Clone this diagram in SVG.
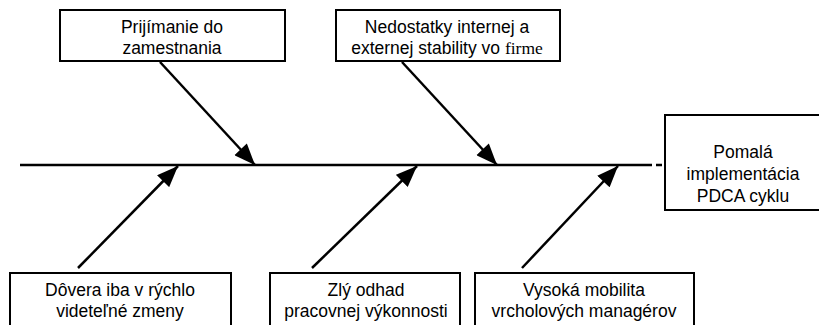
<svg xmlns="http://www.w3.org/2000/svg" width="819" height="325" viewBox="0 0 819 325">
<defs>
<style>
.box{fill:#fff;stroke:#000;stroke-width:2}
.t{font-family:"Liberation Sans",Arial,sans-serif;font-size:17.5px;fill:#000;text-anchor:middle}
.ln{stroke:#000;stroke-width:2.5;fill:none}
</style>
<marker id="arr" viewBox="0 0 20 16" refX="20" refY="8" markerWidth="22" markerHeight="17" markerUnits="userSpaceOnUse" orient="auto">
<path d="M0,0 L20,8 L0,16 Z" fill="#000"/>
</marker>
</defs>
<rect width="819" height="325" fill="#fff"/>
<g id="connectors">
<line class="ln" x1="20" y1="165" x2="646" y2="165"/>
<line class="ln" x1="646" y1="165" x2="665" y2="165" stroke-dasharray="6,4" stroke-width="1.5"/>
<line class="ln" x1="160" y1="62" x2="255" y2="165" marker-end="url(#arr)"/>
<line class="ln" x1="402" y1="62" x2="497" y2="165" marker-end="url(#arr)"/>
<line class="ln" x1="78" y1="268" x2="178" y2="166" marker-end="url(#arr)"/>
<line class="ln" x1="312" y1="268" x2="417" y2="166" marker-end="url(#arr)"/>
<line class="ln" x1="522" y1="268" x2="618" y2="166" marker-end="url(#arr)"/>
</g>
<g id="n1">
<rect class="box" x="60" y="10" width="225" height="51"/>
<text class="t" x="172" y="33">Prijímanie do</text>
<text class="t" x="172" y="54">zamestnania</text>
</g>
<g id="n2">
<rect class="box" x="336" y="10" width="224" height="51"/>
<text class="t" x="447" y="33">Nedostatky internej a</text>
<text class="t" x="447" y="54">externej stability vo <tspan style="font-family:'Liberation Serif','Times New Roman',serif">firme</tspan></text>
</g>
<g id="effect">
<rect class="box" x="665" y="115" width="160" height="95"/>
<text class="t" x="743" y="158">Pomalá</text>
<text class="t" x="743" y="180">implementácia</text>
<text class="t" x="743" y="202">PDCA cyklu</text>
</g>
<g id="n3">
<rect class="box" x="10" y="273" width="221" height="60"/>
<text class="t" x="120" y="296">Dôvera iba v rýchlo</text>
<text class="t" x="120" y="317">videteľné zmeny</text>
</g>
<g id="n4">
<rect class="box" x="270" y="273" width="190" height="60"/>
<text class="t" x="366" y="296">Zlý odhad</text>
<text class="t" x="366" y="317">pracovnej výkonnosti</text>
</g>
<g id="n5">
<rect class="box" x="475" y="273" width="219" height="60"/>
<text class="t" x="584" y="296">Vysoká mobilita</text>
<text class="t" x="584" y="317">vrcholových managérov</text>
</g>
</svg>
